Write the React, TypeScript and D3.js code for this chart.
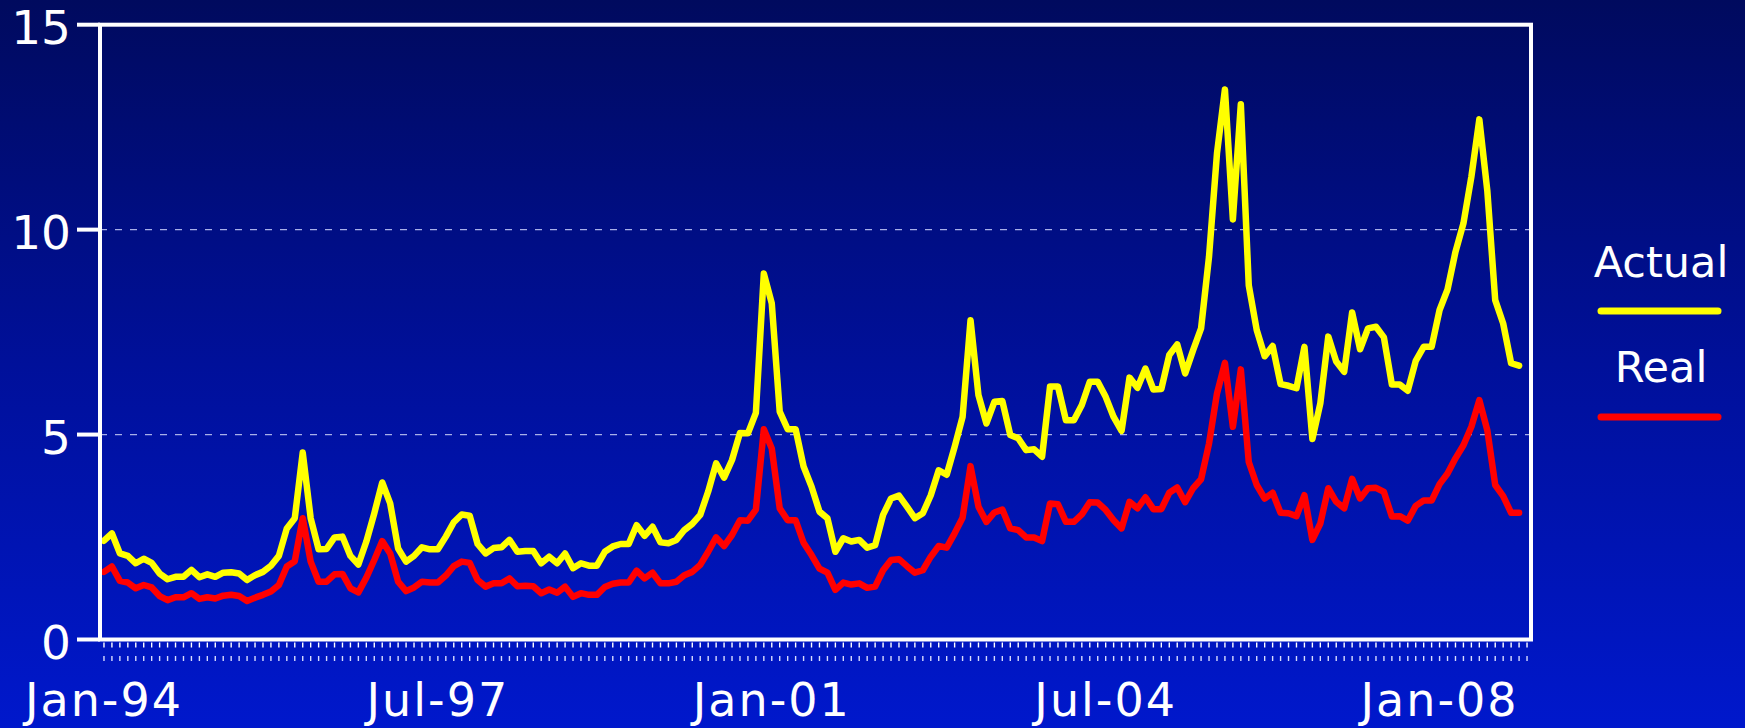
import React from "react";
import * as d3 from "d3";

const START_YEAR = 1994;
const MONTH_COUNT = 180; // Jan-94 .. Dec-08 category slots
const months: Date[] = d3.timeMonth.range(new Date(START_YEAR, 0, 1), new Date(START_YEAR, MONTH_COUNT, 1));

const tickLabels = ["Jan-94", "Jul-97", "Jan-01", "Jul-04", "Jan-08"];
const tickLabelIndex = [0, 42, 84, 126, 168];

const yTicks = [0, 5, 10, 15];
const gridValues = [5, 10];

const actual = [
  2.41, 2.59, 2.10, 2.04, 1.86, 1.97, 1.87, 1.61, 1.47, 1.53,
  1.53, 1.70, 1.52, 1.59, 1.53, 1.63, 1.64, 1.61, 1.45, 1.57,
  1.65, 1.80, 2.04, 2.71, 2.96, 4.56, 2.96, 2.20, 2.21, 2.49,
  2.51, 2.04, 1.83, 2.39, 3.08, 3.83, 3.32, 2.22, 1.90, 2.04,
  2.25, 2.20, 2.20, 2.51, 2.86, 3.05, 3.02, 2.33, 2.10, 2.23,
  2.25, 2.43, 2.14, 2.16, 2.16, 1.86, 2.02, 1.86, 2.10, 1.74,
  1.86, 1.80, 1.80, 2.14, 2.27, 2.33, 2.33, 2.79, 2.53, 2.75,
  2.37, 2.35, 2.43, 2.67, 2.82, 3.04, 3.61, 4.30, 3.95, 4.38,
  5.04, 5.03, 5.53, 8.93, 8.20, 5.56, 5.13, 5.13, 4.22, 3.73,
  3.12, 2.96, 2.14, 2.47, 2.39, 2.43, 2.24, 2.30, 3.04, 3.44,
  3.51, 3.24, 2.96, 3.08, 3.52, 4.13, 4.02, 4.70, 5.43, 7.79,
  5.96, 5.27, 5.80, 5.82, 4.99, 4.91, 4.62, 4.64, 4.46, 6.17,
  6.17, 5.35, 5.35, 5.72, 6.29, 6.29, 5.92, 5.43, 5.09, 6.39,
  6.14, 6.61, 6.10, 6.11, 6.94, 7.20, 6.49, 7.06, 7.59, 9.34,
  11.86, 13.42, 10.25, 13.06, 8.64, 7.55, 6.91, 7.16, 6.23, 6.19,
  6.13, 7.14, 4.89, 5.76, 7.39, 6.78, 6.53, 7.98, 7.08, 7.59,
  7.63, 7.37, 6.22, 6.22, 6.07, 6.80, 7.14, 7.14, 8.04, 8.54,
  9.46, 10.15, 11.29, 12.69, 10.96, 8.28, 7.71, 6.74, 6.68,
];

const real = [
  1.65, 1.78, 1.43, 1.39, 1.25, 1.33, 1.27, 1.06, 0.96, 1.03,
  1.03, 1.13, 0.99, 1.03, 1.00, 1.07, 1.09, 1.06, 0.94, 1.02,
  1.09, 1.17, 1.33, 1.78, 1.91, 2.96, 1.90, 1.41, 1.41, 1.59,
  1.60, 1.25, 1.15, 1.51, 1.94, 2.40, 2.10, 1.41, 1.18, 1.27,
  1.41, 1.39, 1.39, 1.56, 1.79, 1.90, 1.87, 1.45, 1.29, 1.37,
  1.37, 1.49, 1.30, 1.31, 1.30, 1.13, 1.22, 1.14, 1.29, 1.04,
  1.13, 1.09, 1.09, 1.28, 1.36, 1.39, 1.39, 1.68, 1.49, 1.63,
  1.37, 1.37, 1.41, 1.57, 1.65, 1.82, 2.14, 2.49, 2.28, 2.55,
  2.91, 2.90, 3.17, 5.13, 4.66, 3.20, 2.91, 2.91, 2.36, 2.06,
  1.73, 1.63, 1.21, 1.39, 1.34, 1.37, 1.26, 1.29, 1.69, 1.94,
  1.96, 1.79, 1.63, 1.69, 2.02, 2.28, 2.24, 2.59, 2.97, 4.23,
  3.24, 2.87, 3.10, 3.17, 2.71, 2.67, 2.49, 2.49, 2.40, 3.32,
  3.30, 2.87, 2.87, 3.05, 3.35, 3.34, 3.16, 2.91, 2.71, 3.36,
  3.20, 3.47, 3.18, 3.18, 3.58, 3.71, 3.35, 3.69, 3.91, 4.78,
  6.00, 6.75, 5.19, 6.59, 4.33, 3.77, 3.44, 3.58, 3.09, 3.08,
  3.01, 3.52, 2.43, 2.83, 3.69, 3.36, 3.20, 3.92, 3.44, 3.69,
  3.70, 3.60, 3.00, 3.01, 2.90, 3.26, 3.39, 3.39, 3.79, 4.05,
  4.42, 4.74, 5.19, 5.84, 5.11, 3.77, 3.50, 3.09, 3.09,
];

const seriesNames = ["Actual", "Real"];
const seriesColors = ["#ffff00", "#ff0000"];

const W = 1745;
const H = 728;
const FONT = "'DejaVu Sans', Verdana, sans-serif";

export default function App() {
  const left = 100, right = 1531, top = 24.7, bottom = 639.5;

  const x = d3.scaleBand<number>()
    .domain(d3.range(months.length))
    .range([left, right])
    .paddingInner(0)
    .paddingOuter(0);
  const cx = (i: number) => (x(i) as number) + x.bandwidth() / 2;
  const y = d3.scaleLinear().domain([0, 15]).range([bottom, top]);

  const line = d3.line<number>()
    .x((_, i) => cx(i))
    .y((d) => y(d));

  const series = [actual, real];

  return (
    <svg width={W} height={H} style={{ position: "absolute", left: 0, top: 0, display: "block" }}>
      <defs>
        <linearGradient id="bg" x1="0" y1="0" x2="0" y2="1">
          <stop offset="0%" stopColor="#000a5e" />
          <stop offset="50%" stopColor="#00109a" />
          <stop offset="100%" stopColor="#0018cc" />
        </linearGradient>
      </defs>
      <rect x={0} y={0} width={W} height={H} fill="url(#bg)" />

      {gridValues.map((v) => (
        <line key={"g" + v} x1={left} x2={right} y1={y(v)} y2={y(v)}
          stroke="#a8b0e8" strokeWidth={1.3} strokeDasharray="7,8" />
      ))}

      {series.map((s, k) => (
        <path key={"s" + k} d={line(s) || ""} fill="none" stroke={seriesColors[k]}
          strokeWidth={6.5} strokeLinejoin="round" strokeLinecap="round" />
      ))}

      <rect x={left} y={top} width={right - left} height={bottom - top}
        fill="none" stroke="#ffffff" strokeWidth={4} />

      {yTicks.map((v) => (
        <g key={"yt" + v}>
          <line x1={77} x2={left} y1={y(v)} y2={y(v)} stroke="#ffffff" strokeWidth={4} />
          <text x={71} y={y(v) + 19} textAnchor="end" fill="#ffffff"
            fontFamily={FONT} fontSize={47}>{v}</text>
        </g>
      ))}

      {months.map((_, i) => (
        <g key={"xt" + i}>
          <line x1={cx(i)} x2={cx(i)} y1={642.5} y2={647.5} stroke="#ffffff" strokeWidth={1.4} />
          <line x1={cx(i)} x2={cx(i)} y1={656} y2={661} stroke="#d8dcff" strokeWidth={1.4} />
        </g>
      ))}

      {tickLabels.map((t, k) => (
        <text key={"xl" + t} x={cx(tickLabelIndex[k])} y={716} textAnchor="middle"
          fill="#ffffff" fontFamily={FONT} fontSize={46} letterSpacing={2}>{t}</text>
      ))}

      {seriesNames.map((n, k) => (
        <g key={"lg" + n}>
          <text x={1661} y={277 + k * 105} textAnchor="middle" fill="#ffffff"
            fontFamily={FONT} fontSize={43}>{n}</text>
          <line x1={1601} x2={1718} y1={311 + k * 106} y2={311 + k * 106}
            stroke={seriesColors[k]} strokeWidth={7} strokeLinecap="round" />
        </g>
      ))}
    </svg>
  );
}
